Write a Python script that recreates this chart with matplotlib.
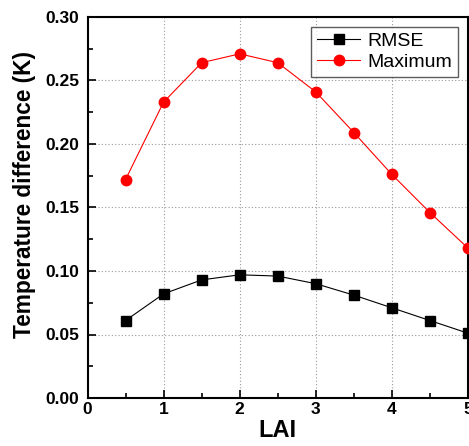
import matplotlib
matplotlib.use("Agg")
import matplotlib.pyplot as plt
from matplotlib.ticker import MultipleLocator

lai = [0.5, 1.0, 1.5, 2.0, 2.5, 3.0, 3.5, 4.0, 4.5, 5.0]
rmse = [0.061, 0.082, 0.093, 0.097, 0.096, 0.090, 0.081, 0.071, 0.061, 0.051]
maximum = [0.172, 0.233, 0.264, 0.271, 0.264, 0.241, 0.209, 0.176, 0.146, 0.118]

plt.rcParams['font.family'] = ['Liberation Sans', 'DejaVu Sans']

fig = plt.figure(figsize=(4.69, 4.46), dpi=100)
ax = fig.add_axes([87.5/469, 48/446, (468-87.5)/469, (398-17)/446])

ax.plot(lai, rmse, color='black', lw=0.8, marker='s', ms=6.5, label='RMSE', clip_on=False, zorder=3)
ax.plot(lai, maximum, color='red', lw=0.8, marker='o', ms=7.5, label='Maximum', clip_on=False, zorder=3)

ax.set_xlim(0, 5)
ax.set_ylim(0, 0.30)
ax.xaxis.set_major_locator(MultipleLocator(1))
ax.xaxis.set_minor_locator(MultipleLocator(0.5))
ax.yaxis.set_major_locator(MultipleLocator(0.05))
ax.yaxis.set_minor_locator(MultipleLocator(0.025))
ax.yaxis.set_major_formatter(matplotlib.ticker.FormatStrFormatter('%.2f'))
ax.tick_params(which='both', direction='in', width=1.2)
ax.tick_params(which='major', length=6, labelsize=12.5)
ax.tick_params(axis='y', which='major', pad=6)
ax.tick_params(axis='x', which='major', pad=3)
ax.tick_params(which='minor', length=3.5)
for lbl in ax.get_xticklabels() + ax.get_yticklabels():
    lbl.set_fontweight('bold')
for s in ax.spines.values():
    s.set_linewidth(1.5)

ax.grid(True, which='major', linestyle=(0, (1, 2)), color='#999999', lw=0.8)
ax.set_axisbelow(True)

ax.set_xlabel('LAI', fontsize=17, fontweight='bold', labelpad=1)
ax.set_ylabel('Temperature difference (K)', fontsize=16.3, fontweight='bold', labelpad=7)
ax.yaxis.set_label_coords(-0.135, 0.535)

leg = ax.legend(loc='upper right', fontsize=14, frameon=True, fancybox=False,
                edgecolor='#333333', borderaxespad=0.5, handlelength=2.2,
                handletextpad=0.4, borderpad=0.3, labelspacing=0.15)
leg.get_frame().set_linewidth(1.0)

fig.savefig('out.png', dpi=100)
